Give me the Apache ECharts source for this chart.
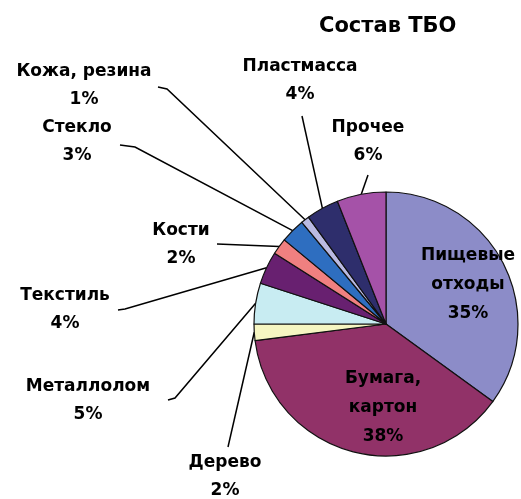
<!DOCTYPE html>
<html>
<head>
<meta charset="utf-8">
<script src="https://cdn.jsdelivr.net/npm/echarts@6/dist/echarts.min.js"></script>
<style>html,body{margin:0;padding:0;background:#fff}#c{width:521px;height:499px}</style>
</head>
<body>
<div id="c"></div>
<script>
// ---- data ----
const titleText = 'Состав ТБО';
const categories = ['Пищевые отходы', 'Бумага, картон', 'Дерево', 'Металлолом', 'Текстиль', 'Кости', 'Стекло', 'Кожа, резина', 'Пластмасса', 'Прочее'];
const labelTexts = ['Пищевые\nотходы', 'Бумага,\nкартон', 'Дерево', 'Металлолом', 'Текстиль', 'Кости', 'Стекло', 'Кожа, резина', 'Пластмасса', 'Прочее'];
const values = [35, 38, 2, 5, 4, 2, 3, 1, 4, 6];
const colors = ['#8C8CC8', '#913268', '#F6F6C2', '#C8ECF2', '#682070', '#F08080', '#2E6EC0', '#BABAE2', '#2E2E6C', '#A552A8'];
const insideIdx = [0, 1];

// ---- layout (label placement only) ----
const CX = 386, CY = 324, R = 132;
const labelPos = [
  [468, 285], [383, 408], [225, 477], [88, 401], [65, 310],
  [181, 245], [77, 142], [84, 86], [300, 81], [368, 142]
];
const lineEnds = [
  null, null,
  [[228, 447], [228, 447]],
  [[175, 398], [168, 400]],
  [[125, 309], [118, 310]],
  [[217, 244], [217, 244]],
  [[135, 147], [120, 145]],
  [[167, 89], [158, 87]],
  [[302, 116], [302, 116]],
  [[368, 175], [368, 175]]
];

const total = values.reduce((a, b) => a + b, 0);
function anchorOf(i) {
  let cum = 0;
  for (let k = 0; k < i; k++) cum += values[k];
  const a = ((cum + values[i] / 2) / total) * Math.PI * 2;
  return [CX + R * Math.sin(a), CY - R * Math.cos(a)];
}

const chart = echarts.init(document.getElementById('c'), null, { renderer: 'canvas' });
const data = categories.map((name, i) => {
  const inside = insideIdx.indexOf(i) >= 0;
  return {
    name: name,
    value: values[i],
    itemStyle: { color: colors[i] },
    label: inside ? { position: 'inside', lineHeight: 29 } : { position: 'outside' },
    labelLine: { show: !inside }
  };
});

chart.setOption({
  animation: false,
  title: {
    text: titleText,
    left: 314,
    top: 11,
    textStyle: { fontFamily: 'DejaVu Sans', fontWeight: 'bold', fontSize: 21, color: '#000' }
  },
  series: [{
    type: 'pie',
    center: [CX, CY],
    radius: R,
    startAngle: 90,
    clockwise: true,
    avoidLabelOverlap: false,
    itemStyle: { borderColor: '#111', borderWidth: 1.2 },
    label: {
      formatter: p => labelTexts[p.dataIndex] + '\n' + p.value + '%',
      fontFamily: 'DejaVu Sans',
      fontWeight: 'bold',
      fontSize: 17,
      color: '#000',
      lineHeight: 28,
      align: 'center'
    },
    labelLine: { lineStyle: { color: '#000', width: 1.5 }, length: 10, length2: 10 },
    labelLayout: function (params) {
      const i = params.dataIndex;
      const pos = labelPos[i];
      const out = { x: pos[0], y: pos[1], align: 'center', verticalAlign: 'middle' };
      if (lineEnds[i]) {
        out.labelLinePoints = [anchorOf(i), lineEnds[i][0], lineEnds[i][1]];
      }
      return out;
    },
    data: data
  }]
});
</script>
</body>
</html>
